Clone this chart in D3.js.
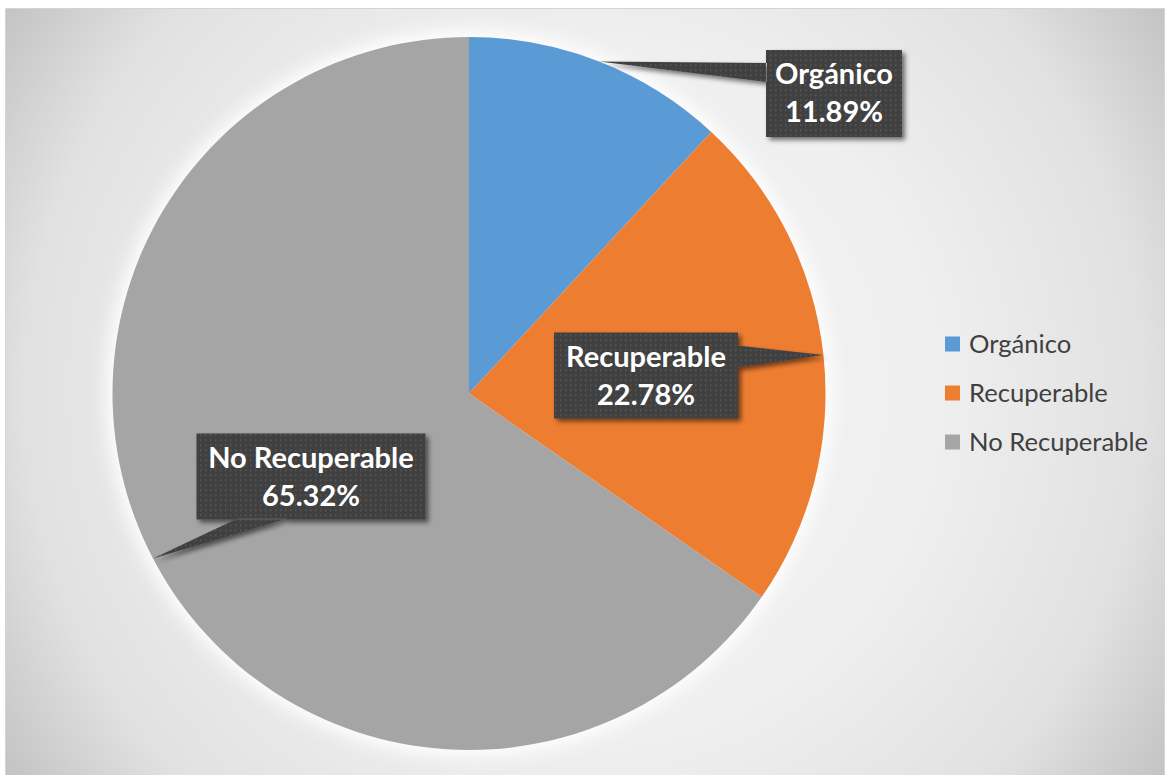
<!DOCTYPE html>
<html>
<head>
<meta charset="utf-8">
<script src="https://cdn.jsdelivr.net/npm/d3@7"></script>
<style>
  html, body { margin: 0; padding: 0; background: #ffffff; }
  svg { display: block; }
</style>
</head>
<body>
<svg id="chart" width="1166" height="775"></svg>
<script>
// Waste composition shares (%)
const categories = ["Orgánico", "Recuperable", "No Recuperable"];
const values = [11.89, 22.78, 65.32];
const colors = ["#5b9bd5", "#ed7d31", "#a5a5a5"];

const W = 1166, H = 775;
const svg = d3.select("#chart");
const defs = svg.append("defs");

// Panel background: radial gradient, light in the middle
const bg = defs.append("radialGradient")
  .attr("id", "bgGrad")
  .attr("gradientUnits", "userSpaceOnUse")
  .attr("cx", 585).attr("cy", 391).attr("r", 700);
[[0, "#f5f5f5"], [0.5, "#efefef"], [0.8, "#e1e1e1"], [1, "#c2c2c2"]].forEach(([o, c]) =>
  bg.append("stop").attr("offset", o).attr("stop-color", c));

// Soft white glow around the pie
defs.append("filter").attr("id", "glow")
  .attr("x", "-20%").attr("y", "-20%").attr("width", "140%").attr("height", "140%")
  .append("feGaussianBlur").attr("stdDeviation", 9);

// Drop shadow for callouts
const sh = defs.append("filter").attr("id", "shadow")
  .attr("x", "-20%").attr("y", "-20%").attr("width", "150%").attr("height", "160%");
sh.append("feGaussianBlur").attr("in", "SourceAlpha").attr("stdDeviation", 2.5).attr("result", "b");
sh.append("feOffset").attr("in", "b").attr("dx", 3).attr("dy", 3).attr("result", "o");
sh.append("feComponentTransfer").attr("in", "o").attr("result", "s")
  .append("feFuncA").attr("type", "linear").attr("slope", 0.55);
const mg = sh.append("feMerge");
mg.append("feMergeNode").attr("in", "s");
mg.append("feMergeNode").attr("in", "SourceGraphic");

// Dotted fill for callouts
const pat = defs.append("pattern").attr("id", "dots")
  .attr("patternUnits", "userSpaceOnUse").attr("width", 5).attr("height", 5);
pat.append("rect").attr("width", 5).attr("height", 5).attr("fill", "#404040");
pat.append("rect").attr("x", 1).attr("y", 1).attr("width", 1.4).attr("height", 1.4).attr("fill", "#5e5e5e");

// Panel
svg.append("rect")
  .attr("x", 5.5).attr("y", 8.5).attr("width", 1159).attr("height", 780)
  .attr("fill", "url(#bgGrad)").attr("stroke", "#d4d4d4").attr("stroke-width", 1);

// Pie
const cx = 469, cy = 393.5, R = 356.5;
const data = categories.map((c, i) => ({ name: c, value: values[i], color: colors[i] }));
const pie = d3.pie().value(d => d.value).sort(null);
const arcs = pie(data);
const arc = d3.arc().innerRadius(0).outerRadius(R);

const pg = svg.append("g").attr("transform", `translate(${cx},${cy})`);
pg.append("circle").attr("r", R + 6).attr("fill", "#ffffff").attr("filter", "url(#glow)");
pg.selectAll("path.slice").data(arcs).join("path")
  .attr("class", "slice")
  .attr("d", arc)
  .attr("fill", d => d.data.color);

// Callout labels: box placement (relative to chart center) and which edge the pointer leaves from
const calloutLayout = [
  { dx: 365, dy: -300, w: 136, h: 87, side: "left", base: [13, 32] },
  { dx: 177, dy: -18, w: 184, h: 86, side: "right", base: [13, 35] },
  { dx: -158, dy: 83, w: 229, h: 86, side: "bottom", base: [41, 91] }
];

const cg = svg.append("g").attr("transform", `translate(${cx},${cy})`);
arcs.forEach((a, i) => {
  const L = calloutLayout[i];
  const mid = (a.startAngle + a.endAngle) / 2;
  const tip = [R * Math.sin(mid), -R * Math.cos(mid)];
  const x0 = L.dx - L.w / 2, y0 = L.dy - L.h / 2;
  let wedge;
  if (L.side === "left") {
    wedge = [[x0 + 1, y0 + L.base[0]], tip, [x0 + 1, y0 + L.base[1]]];
  } else if (L.side === "right") {
    wedge = [[x0 + L.w - 1, y0 + L.base[0]], tip, [x0 + L.w - 1, y0 + L.base[1]]];
  } else {
    wedge = [[x0 + L.base[0], y0 + L.h - 1], tip, [x0 + L.base[1], y0 + L.h - 1]];
  }
  const path = d3.path();
  path.rect(x0, y0, L.w, L.h);
  path.moveTo(...wedge[0]); path.lineTo(...wedge[1]); path.lineTo(...wedge[2]); path.closePath();

  const g = cg.append("g").attr("filter", "url(#shadow)");
  g.append("path").attr("d", path.toString()).attr("fill", "url(#dots)").attr("fill-rule", "nonzero");

  const t = cg.append("text")
    .attr("x", L.dx).attr("text-anchor", "middle")
    .attr("font-family", "Lato, 'Open Sans', sans-serif")
    .attr("font-weight", "bold").attr("font-size", 29)
    .attr("fill", "#ffffff");
  t.append("tspan").attr("x", L.dx).attr("y", y0 + 34).text(a.data.name);
  t.append("tspan").attr("x", L.dx).attr("y", y0 + 72)
    .text(d3.format(".2f")(a.data.value) + "%");
});

// Legend
const lg = svg.append("g").attr("transform", "translate(945,344)");
const items = lg.selectAll("g").data(data).join("g")
  .attr("transform", (d, i) => `translate(0,${i * 49})`);
items.append("rect").attr("x", 0).attr("y", -7.5).attr("width", 15).attr("height", 15)
  .attr("fill", d => d.color);
items.append("text").attr("x", 24).attr("y", 9)
  .attr("font-family", "Lato, 'Open Sans', sans-serif")
  .attr("font-size", 25.6).attr("fill", "#404040")
  .text(d => d.name);
</script>
</body>
</html>
